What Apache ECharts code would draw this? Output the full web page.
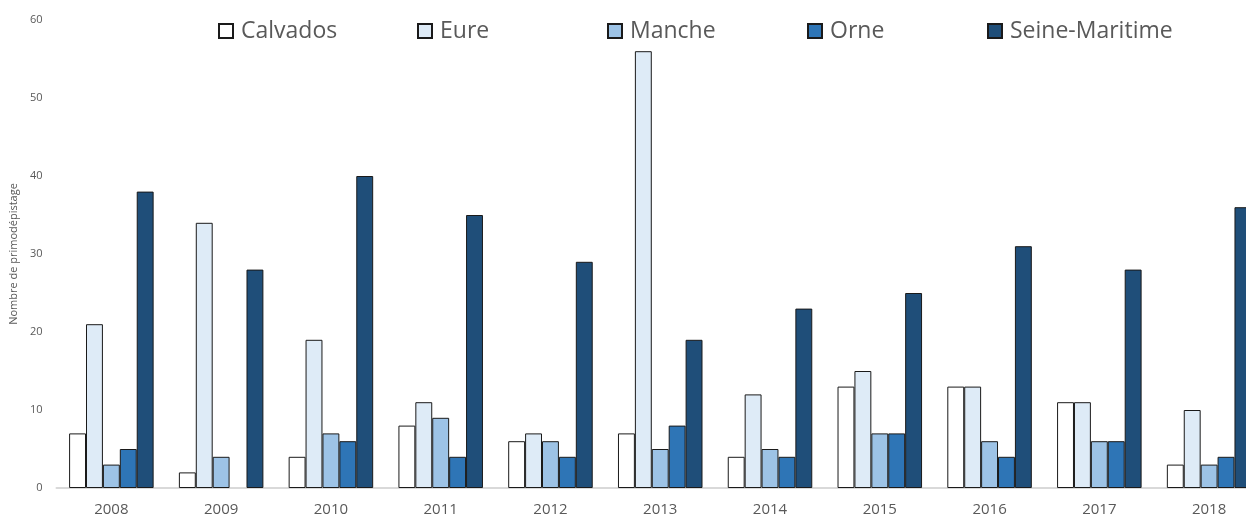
<!DOCTYPE html>
<html>
<head>
<meta charset="utf-8">
<script src="https://cdn.jsdelivr.net/npm/echarts@6/dist/echarts.min.js"></script>
<style>
  html, body { margin: 0; padding: 0; background: #fff; overflow: hidden; }
  #chart { width: 1264px; height: 519px; }
</style>
</head>
<body>
<div id="chart"></div>
<script>
// Primodépistage counts per department, 2008–2018
const years = ['2008', '2009', '2010', '2011', '2012', '2013', '2014', '2015', '2016', '2017', '2018'];
const calvados      = [7, 2, 4, 8, 6, 7, 4, 13, 13, 11, 3];
const eure          = [21, 34, 19, 11, 7, 56, 12, 15, 13, 11, 10];
const manche        = [3, 4, 7, 9, 6, 5, 5, 7, 6, 6, 3];
const orne          = [5, null, 6, 4, 4, 8, 4, 7, 4, 6, 4];
const seineMaritime = [38, 28, 40, 35, 29, 19, 23, 25, 31, 28, 36];
const yTicks = [0, 10, 20, 30, 40, 50, 60];

const seriesDefs = [
  { name: 'Calvados', data: calvados, color: '#ffffff', legendLeft: 218 },
  { name: 'Eure', data: eure, color: '#deebf7', legendLeft: 417 },
  { name: 'Manche', data: manche, color: '#9dc3e6', legendLeft: 607 },
  { name: 'Orne', data: orne, color: '#2e75b6', legendLeft: 807 },
  { name: 'Seine-Maritime', data: seineMaritime, color: '#1f4e79', legendLeft: 987 }
];

const chart = echarts.init(document.getElementById('chart'));

chart.setOption({
  backgroundColor: '#ffffff',
  animation: false,
  legend: seriesDefs.map(s => ({
    data: [s.name],
    left: s.legendLeft,
    top: 19,
    padding: 0,
    itemWidth: 14,
    itemHeight: 14,
    itemGap: 0,
    icon: 'rect',
    textStyle: {
      fontFamily: 'Open Sans',
      fontSize: 23,
      lineHeight: 24,
      color: '#595959',
      padding: [0, 0, 0, 3]
    }
  })),
  grid: { left: 56, right: 0, top: 20, bottom: 31 },
  xAxis: {
    type: 'category',
    data: years,
    axisLine: { show: true, lineStyle: { color: '#d9d9d9', width: 2 } },
    axisTick: { show: false },
    axisLabel: {
      fontFamily: 'Open Sans',
      fontSize: 15,
      color: '#595959',
      margin: 14
    }
  },
  yAxis: {
    type: 'value',
    min: yTicks[0],
    max: yTicks[yTicks.length - 1],
    interval: 10,
    name: 'Nombre de primodépistage',
    nameLocation: 'middle',
    nameGap: 36,
    nameTextStyle: {
      fontFamily: 'Open Sans',
      fontSize: 11,
      color: '#595959'
    },
    axisLine: { show: false },
    axisTick: { show: false },
    splitLine: { show: false },
    axisLabel: {
      fontFamily: 'Open Sans',
      fontSize: 11,
      color: '#595959',
      margin: 14
    }
  },
  series: seriesDefs.map(s => ({
    type: 'bar',
    name: s.name,
    data: s.data,
    barGap: '0%',
    barCategoryGap: '23%',
    itemStyle: {
      color: s.color,
      borderColor: '#1a1a1a',
      borderWidth: 1
    }
  }))
});
</script>
</body>
</html>
